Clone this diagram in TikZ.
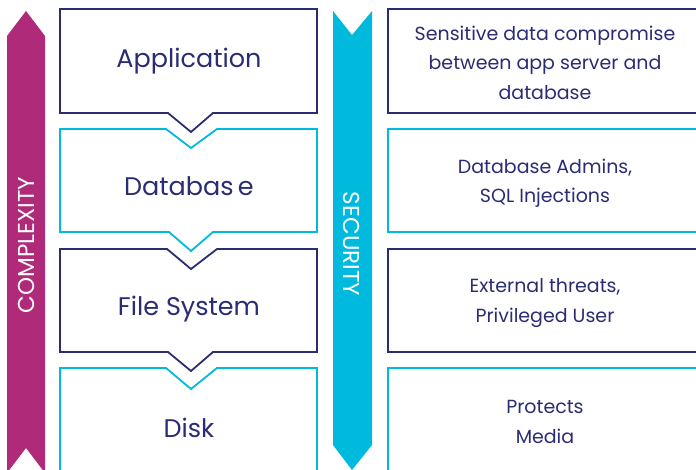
\documentclass[tikz,border=0pt]{standalone}
\usepackage{fontspec}
\setmainfont{Poppins}
\definecolor{navy}{RGB}{42,45,115}
\definecolor{cyanc}{RGB}{0,186,222}
\definecolor{magc}{RGB}{176,42,122}
\begin{document}
\begin{tikzpicture}[x=1pt,y=-1pt,
  navybox/.style={draw=navy,line width=1.8pt,fill=white,line join=miter},
  cyanbox/.style={draw=cyanc,line width=1.8pt,fill=white,line join=miter},
  leftlabel/.style={text=navy,font=\fontsize{25.5}{30}\selectfont,anchor=center},
  rightlabel/.style={text=navy,font=\fontsize{19}{29.5}\selectfont,align=center,anchor=center},
  sidelabel/.style={text=white,font=\fontsize{23}{25}\selectfont,anchor=center}]
\useasboundingbox (0,0) rectangle (696,470);
\clip (0,0) rectangle (696,470);
% side arrows
\fill[magc] (7,473) -- (7,36) -- (26,11) -- (45,36) -- (45,473) -- (26,448) -- cycle;
\fill[cyanc] (333,11) -- (352,35) -- (372,11) -- (372,445) -- (352,470) -- (333,445) -- cycle;
\node[sidelabel,rotate=90] (cx) at (26,245) {COMPLEXITY};
\node[sidelabel,rotate=-90] (sx) at (352,244) {SECURITY};
% left column
\draw[navybox] (60,9) -- (317,9) -- (317,113) -- (213,113) -- (191,132) -- (168,113) -- (60,113) -- cycle;
\draw[cyanbox] (60,129) -- (166,129) -- (191,148) -- (217,129) -- (317,129) -- (317,232) -- (213,232) -- (191,251) -- (169,232) -- (60,232) -- cycle;
\draw[navybox] (60,249) -- (167,249) -- (191,269) -- (217,249) -- (317,249) -- (317,352) -- (213,352) -- (191,371) -- (168,352) -- (60,352) -- cycle;
\draw[cyanbox] (60,368) -- (166,368) -- (191,389) -- (217,368) -- (317,368) -- (317,480) -- (60,480) -- cycle;
\node[leftlabel] (app) at (189,61) {Application};
\node[leftlabel] (db) at (189,186) {Databas\,e};
\node[leftlabel] (fs) at (189,309) {File System};
\node[leftlabel] (disk) at (189,428) {Disk};
% right column
\draw[navybox] (388,9) rectangle (710,113);
\draw[cyanbox] (388,129) rectangle (710,232);
\draw[navybox] (388,249) rectangle (710,352);
\draw[cyanbox] (388,368) rectangle (710,480);
\node[rightlabel] (r1) at (545,62.5) {Sensitive data compromise\\between app server and\\database};
\node[rightlabel] (r2) at (545,183) {Database Admins,\\SQL Injections};
\node[rightlabel] (r3) at (545,303) {External threats,\\Privileged User};
\node[rightlabel] (r4) at (545,422) {Protects\\Media};
\end{tikzpicture}
\end{document}
